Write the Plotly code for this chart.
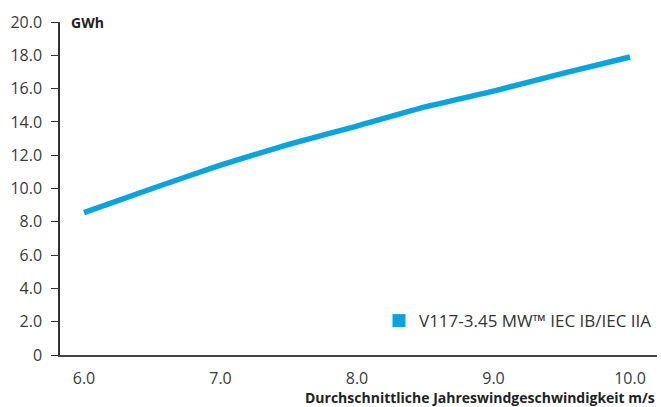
import plotly.graph_objects as go

# Average annual wind speed (m/s) and annual energy production (GWh)
wind_speed = [6.0, 6.5, 7.0, 7.5, 8.0, 8.5, 9.0, 9.5, 10.0]
aep_gwh = [8.55, 10.0, 11.4, 12.65, 13.75, 14.9, 15.85, 16.9, 17.9]

series_name = "V117-3.45 MW™ IEC IB/IEC IIA"
y_ticks = [0, 2, 4, 6, 8, 10, 12, 14, 16, 18, 20]
y_tick_text = ["0", "2.0", "4.0", "6.0", "8.0", "10.0", "12.0", "14.0", "16.0", "18.0", "20.0"]
x_ticks = [6, 7, 8, 9, 10]
x_tick_text = ["6.0", "7.0", "8.0", "9.0", "10.0"]

blue = "#0aa2df"
font_family = "Open Sans, Noto Sans, sans-serif"

fig = go.Figure()
fig.add_trace(go.Scatter(
    x=wind_speed, y=aep_gwh, mode="lines",
    line=dict(color=blue, width=5.5, shape="spline", smoothing=0.5),
    showlegend=False, hoverinfo="skip",
))
# legend entry with a square swatch
fig.add_trace(go.Scatter(
    x=[None], y=[None], mode="markers", name=series_name,
    marker=dict(symbol="square", size=13, color=blue),
))

fig.update_layout(
    width=661, height=407,
    margin=dict(l=60, r=4, t=22, b=52),
    paper_bgcolor="white", plot_bgcolor="white",
    font=dict(family=font_family, size=15, color="#3a3a3a"),
    xaxis=dict(
        range=[5.824, 10.198], tickvals=x_ticks, ticktext=x_tick_text,
        showgrid=False, zeroline=False, showline=True, linecolor="#444444", linewidth=1.5,
        ticks="", ticklabelstandoff=8, tickfont=dict(size=16, color="#3a3a3a"),
    ),
    yaxis=dict(
        range=[0, 20], tickvals=y_ticks, ticktext=y_tick_text,
        showgrid=False, zeroline=False, showline=True, linecolor="#333333", linewidth=1.5,
        ticks="outside", ticklen=7, tickwidth=1.2, tickcolor="#333333",
        ticklabelstandoff=6, tickfont=dict(size=16, color="#3a3a3a"),
    ),
    legend=dict(
        x=1, xanchor="right", y=0.102, yanchor="middle",
        bgcolor="rgba(0,0,0,0)", font=dict(size=17, color="#333333"),
        itemwidth=30,
    ),
    annotations=[
        dict(text="<b>GWh</b>", xref="paper", yref="paper", x=0, y=1,
             xshift=9, xanchor="left", yanchor="middle", showarrow=False,
             font=dict(size=14, color="#222222")),
        dict(text="<b>Durchschnittliche Jahreswindgeschwindigkeit m/s</b>",
             xref="paper", yref="paper", x=1, y=0, yshift=-42,
             xanchor="right", yanchor="middle", showarrow=False,
             font=dict(size=14, color="#222222")),
    ],
)

fig.write_html("out.html")
